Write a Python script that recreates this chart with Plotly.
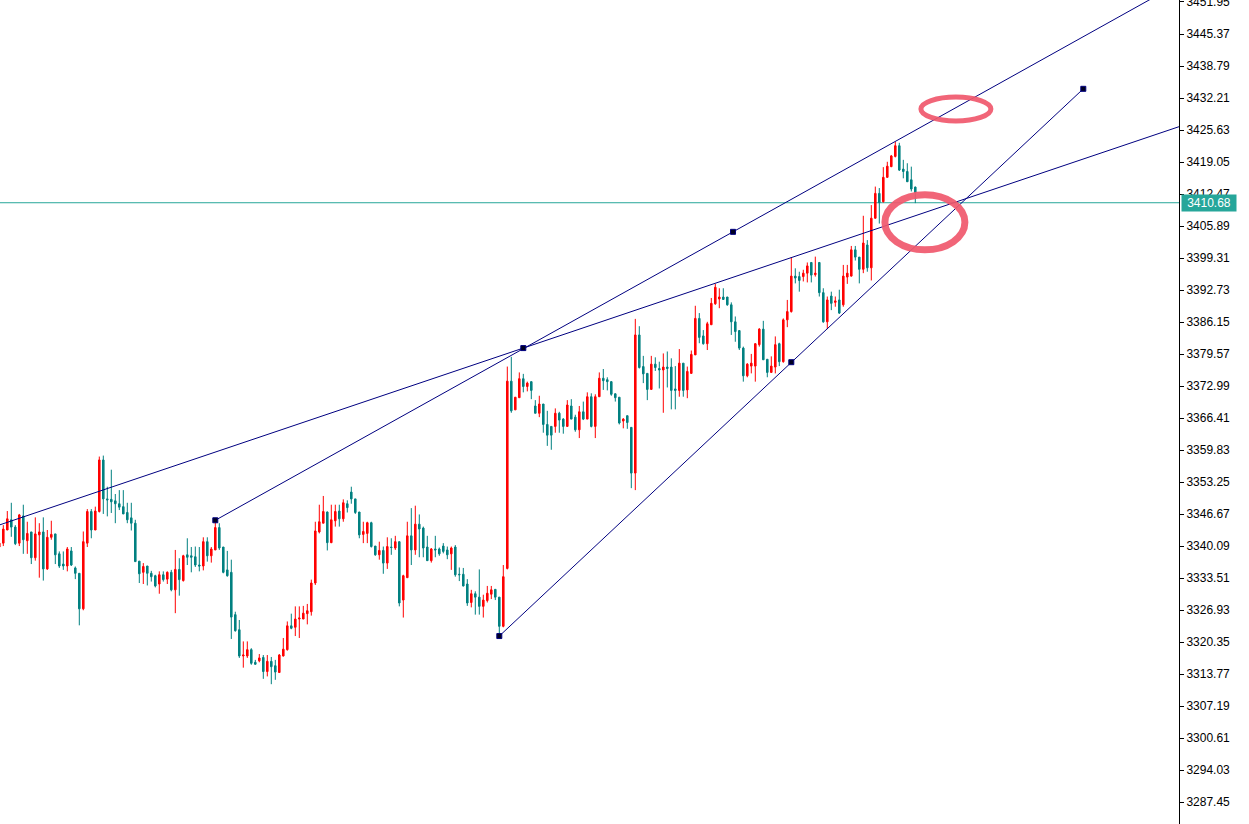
import plotly.graph_objects as go

# ---- candle data (index -1 is the partial candle at the left edge) ----
opens = [3339.9,
 3340.7, 3343.4, 3345.5, 3344.0, 3340.7, 3346.3, 3341.2, 3343.0, 3337.7, 3342.4,
 3343.0, 3335.4, 3341.9, 3342.6, 3338.5, 3336.4, 3336.0, 3339.1, 3335.6, 3334.5,
 3327.2, 3340.7, 3347.2, 3343.4, 3347.2, 3357.8, 3349.8, 3349.7, 3349.4, 3348.8,
 3348.2, 3347.0, 3345.9, 3344.8, 3337.0, 3334.7, 3336.0, 3334.5, 3334.0, 3332.3,
 3334.2, 3333.3, 3334.7, 3331.1, 3335.3, 3333.0, 3338.3, 3338.1, 3337.9, 3336.2,
 3336.0, 3341.0, 3338.1, 3339.3, 3343.9, 3339.9, 3335.2, 3334.7, 3326.0, 3322.9,
 3317.5, 3317.5, 3318.8, 3316.2, 3316.5, 3317.2, 3314.3, 3316.4, 3315.5, 3314.1,
 3317.5, 3318.8, 3323.7, 3323.4, 3325.1, 3325.1, 3326.2, 3326.6, 3332.5, 3343.0,
 3344.8, 3347.1, 3340.8, 3345.3, 3347.3, 3345.7, 3348.8, 3351.2, 3349.8, 3347.1,
 3342.5, 3342.7, 3344.9, 3340.1, 3338.3, 3339.2, 3336.6, 3339.9, 3339.7, 3341.0,
 3329.0, 3333.6, 3342.2, 3339.3, 3344.6, 3343.8, 3339.9, 3337.1, 3339.5, 3339.5,
 3340.1, 3339.3, 3338.5, 3339.9, 3334.3, 3334.3, 3332.3, 3328.5, 3330.3, 3329.6,
 3327.7, 3328.9, 3330.2, 3331.2, 3329.6, 3323.6, 3335.5, 3374.0, 3368.1, 3370.6,
 3374.5, 3372.9, 3373.9, 3368.9, 3367.4, 3369.3, 3365.1, 3364.7, 3364.7, 3367.4,
 3366.2, 3364.7, 3368.9, 3366.6, 3364.0, 3367.7, 3366.2, 3370.8, 3364.7, 3370.8,
 3374.6, 3374.3, 3373.9, 3371.4, 3370.7, 3365.8, 3366.9, 3364.5, 3355.1, 3383.5,
 3377.0, 3375.6, 3372.3, 3377.5, 3376.6, 3376.3, 3376.9, 3376.9, 3372.4, 3372.1,
 3377.7, 3372.2, 3375.6, 3379.4, 3386.9, 3383.3, 3381.7, 3385.6, 3389.9, 3390.9,
 3391.3, 3391.3, 3389.7, 3386.2, 3384.4, 3380.8, 3375.1, 3377.1, 3377.1, 3381.5,
 3384.7, 3378.5, 3375.8, 3376.9, 3381.7, 3378.0, 3386.6, 3388.3, 3395.6, 3395.5,
 3395.5, 3396.2, 3398.4, 3395.9, 3398.4, 3392.2, 3386.2, 3391.5, 3390.2, 3390.7,
 3389.7, 3395.4, 3395.6, 3401.0, 3399.5, 3397.0, 3402.0, 3397.3, 3407.5, 3412.6,
 3410.9, 3415.9, 3418.1, 3420.2, 3422.4, 3417.6, 3417.1, 3415.4, 3413.9]

highs = [3341.2,
 3344.4, 3347.3, 3349.0, 3344.4, 3346.7, 3348.6, 3345.1, 3343.0, 3346.0, 3344.8,
 3346.0, 3343.4, 3345.3, 3342.6, 3339.0, 3339.0, 3339.9, 3339.9, 3335.9, 3334.5,
 3343.1, 3347.7, 3347.7, 3348.2, 3358.5, 3358.7, 3352.3, 3355.8, 3350.8, 3351.6,
 3351.6, 3349.0, 3349.0, 3345.5, 3337.0, 3336.6, 3336.0, 3335.0, 3334.2, 3334.9,
 3334.9, 3334.9, 3335.2, 3339.3, 3337.6, 3338.3, 3341.7, 3339.9, 3340.0, 3339.9,
 3341.9, 3341.9, 3339.9, 3345.3, 3344.8, 3339.9, 3339.1, 3337.3, 3326.6, 3324.9,
 3320.5, 3320.5, 3319.1, 3316.7, 3317.9, 3317.7, 3317.7, 3317.3, 3316.7, 3317.9,
 3321.2, 3324.6, 3326.2, 3327.7, 3327.7, 3327.8, 3328.2, 3333.2, 3345.1, 3348.6,
 3350.4, 3347.2, 3348.6, 3348.6, 3348.6, 3349.7, 3349.5, 3352.3, 3349.8, 3347.1,
 3345.1, 3345.1, 3345.1, 3340.1, 3341.0, 3340.0, 3341.9, 3341.7, 3342.2, 3341.0,
 3334.2, 3345.1, 3347.9, 3348.4, 3346.6, 3344.1, 3342.2, 3339.7, 3342.2, 3339.8,
 3340.7, 3340.0, 3340.0, 3340.3, 3335.7, 3335.6, 3333.3, 3331.1, 3330.8, 3335.3,
 3330.1, 3331.9, 3331.9, 3331.2, 3329.6, 3336.2, 3377.0, 3379.0, 3370.7, 3375.8,
 3375.5, 3373.9, 3373.9, 3370.1, 3371.0, 3369.3, 3367.9, 3364.7, 3368.4, 3367.7,
 3366.4, 3370.1, 3370.3, 3367.1, 3368.9, 3369.8, 3371.7, 3371.5, 3371.3, 3375.8,
 3376.5, 3374.8, 3374.0, 3371.5, 3370.7, 3366.4, 3366.9, 3364.5, 3386.8, 3385.3,
 3379.2, 3375.6, 3379.2, 3378.9, 3378.0, 3379.7, 3380.1, 3378.7, 3377.1, 3380.6,
 3377.7, 3377.0, 3380.3, 3389.5, 3388.0, 3384.5, 3386.2, 3391.1, 3394.0, 3393.1,
 3393.1, 3391.3, 3390.2, 3387.3, 3384.4, 3381.1, 3377.7, 3379.6, 3381.8, 3384.9,
 3386.4, 3378.5, 3379.1, 3383.2, 3381.9, 3386.9, 3390.7, 3399.5, 3397.2, 3396.5,
 3396.9, 3398.4, 3398.4, 3399.6, 3398.4, 3393.1, 3391.4, 3392.4, 3391.4, 3392.8,
 3397.9, 3397.9, 3401.8, 3401.8, 3399.5, 3408.0, 3403.0, 3410.2, 3414.0, 3413.7,
 3418.0, 3419.1, 3420.5, 3423.2, 3423.0, 3419.5, 3418.8, 3418.1, 3414.0]

lows = [3339.7,
 3340.1, 3343.4, 3342.0, 3340.3, 3340.1, 3338.5, 3338.5, 3336.4, 3337.1, 3333.6,
 3333.0, 3335.2, 3341.4, 3336.4, 3335.6, 3335.2, 3334.9, 3336.0, 3333.3, 3323.8,
 3326.9, 3339.9, 3341.7, 3343.4, 3347.0, 3346.7, 3346.2, 3346.9, 3344.8, 3347.5,
 3346.7, 3344.8, 3343.3, 3336.9, 3332.5, 3332.3, 3332.0, 3332.8, 3331.6, 3330.3,
 3332.8, 3332.3, 3330.8, 3326.3, 3329.9, 3332.8, 3336.2, 3334.7, 3335.8, 3334.9,
 3335.1, 3336.9, 3336.7, 3339.3, 3339.3, 3334.5, 3333.8, 3321.0, 3322.5, 3317.1,
 3315.1, 3317.1, 3315.7, 3315.7, 3316.2, 3312.8, 3313.3, 3311.7, 3312.6, 3314.1,
 3317.4, 3318.6, 3323.0, 3321.6, 3321.2, 3325.1, 3324.0, 3325.8, 3332.1, 3342.7,
 3344.8, 3339.2, 3340.7, 3344.1, 3344.1, 3345.1, 3347.0, 3348.8, 3346.7, 3341.7,
 3340.7, 3340.7, 3339.8, 3338.1, 3337.3, 3334.4, 3335.4, 3338.3, 3339.3, 3327.7,
 3325.4, 3333.6, 3336.2, 3338.3, 3337.8, 3337.8, 3337.1, 3336.7, 3337.8, 3338.1,
 3338.6, 3337.4, 3335.2, 3333.8, 3332.9, 3331.8, 3327.8, 3327.5, 3326.0, 3326.0,
 3325.4, 3328.5, 3329.2, 3329.0, 3321.9, 3323.4, 3335.3, 3367.5, 3368.1, 3370.6,
 3371.7, 3371.9, 3370.3, 3367.4, 3366.6, 3363.4, 3360.7, 3359.9, 3363.4, 3363.4,
 3363.2, 3364.7, 3366.2, 3363.6, 3362.3, 3366.0, 3366.2, 3364.5, 3362.3, 3370.8,
 3372.2, 3372.1, 3371.0, 3369.8, 3365.1, 3364.3, 3364.2, 3352.0, 3351.6, 3376.6,
 3373.6, 3370.1, 3372.3, 3376.1, 3372.5, 3367.5, 3372.7, 3368.2, 3368.2, 3370.8,
 3370.8, 3370.5, 3375.6, 3379.4, 3381.8, 3381.5, 3380.4, 3385.6, 3389.7, 3389.0,
 3390.7, 3389.5, 3383.5, 3382.1, 3380.4, 3373.9, 3374.8, 3375.6, 3373.9, 3381.1,
 3378.4, 3374.8, 3375.8, 3375.6, 3377.1, 3377.8, 3385.1, 3388.1, 3394.1, 3392.4,
 3394.5, 3394.3, 3394.3, 3395.5, 3391.4, 3386.0, 3384.7, 3388.6, 3389.3, 3387.8,
 3389.3, 3394.0, 3395.5, 3398.8, 3394.1, 3396.2, 3396.5, 3394.7, 3407.4, 3406.4,
 3410.7, 3415.8, 3418.0, 3420.0, 3417.2, 3415.7, 3415.0, 3413.0, 3410.6]

closes = [3340.7,
 3343.6, 3345.7, 3344.0, 3340.6, 3346.5, 3341.4, 3342.7, 3337.7, 3342.6, 3343.0,
 3335.4, 3341.9, 3342.5, 3338.3, 3336.0, 3336.0, 3339.5, 3336.2, 3334.5, 3327.2,
 3341.0, 3347.2, 3343.4, 3347.3, 3357.8, 3349.8, 3349.6, 3349.2, 3348.8, 3348.1,
 3346.7, 3345.5, 3344.8, 3336.9, 3334.4, 3335.9, 3334.5, 3333.8, 3331.9, 3334.2,
 3333.2, 3334.7, 3331.1, 3335.3, 3333.2, 3338.1, 3337.8, 3337.8, 3336.2, 3336.0,
 3341.0, 3338.1, 3339.5, 3343.9, 3339.7, 3334.7, 3334.0, 3325.5, 3322.7, 3317.5,
 3317.7, 3318.8, 3316.0, 3315.8, 3317.1, 3314.3, 3316.4, 3315.3, 3314.2, 3317.7,
 3318.9, 3323.7, 3323.2, 3325.1, 3325.3, 3326.3, 3326.8, 3332.5, 3343.2, 3345.1,
 3347.2, 3340.8, 3345.5, 3347.2, 3345.7, 3349.0, 3348.0, 3349.8, 3347.0, 3342.4,
 3343.1, 3344.9, 3340.0, 3338.3, 3339.2, 3336.6, 3340.0, 3339.8, 3341.0, 3328.4,
 3334.0, 3342.2, 3339.3, 3344.6, 3343.6, 3339.7, 3337.1, 3339.5, 3339.3, 3338.5,
 3339.0, 3338.3, 3339.7, 3334.2, 3334.2, 3331.9, 3328.4, 3330.3, 3329.6, 3327.7,
 3329.0, 3330.4, 3331.1, 3329.6, 3323.6, 3333.8, 3374.0, 3367.9, 3370.7, 3374.5,
 3372.9, 3373.6, 3372.1, 3367.4, 3369.3, 3365.1, 3362.9, 3362.9, 3367.4, 3366.0,
 3364.7, 3369.1, 3366.2, 3364.0, 3367.7, 3366.2, 3370.8, 3364.7, 3370.8, 3374.6,
 3374.1, 3373.9, 3371.3, 3370.6, 3365.4, 3366.2, 3365.5, 3355.1, 3383.5, 3376.8,
 3375.5, 3372.3, 3377.5, 3376.8, 3376.3, 3376.9, 3376.6, 3372.1, 3372.1, 3377.7,
 3372.1, 3376.0, 3379.5, 3386.9, 3383.0, 3381.7, 3385.8, 3390.0, 3393.3, 3391.3,
 3390.8, 3389.7, 3386.2, 3384.2, 3380.8, 3375.1, 3377.5, 3377.7, 3381.7, 3384.7,
 3378.4, 3375.8, 3377.1, 3381.5, 3378.0, 3386.6, 3388.3, 3395.6, 3395.2, 3394.7,
 3396.2, 3397.7, 3395.8, 3396.2, 3392.2, 3386.2, 3390.7, 3390.0, 3390.5, 3388.0,
 3395.6, 3396.2, 3401.0, 3399.5, 3397.0, 3402.4, 3397.3, 3407.5, 3412.6, 3410.7,
 3415.9, 3418.2, 3420.3, 3422.4, 3417.4, 3417.1, 3415.0, 3413.5, 3412.8]

candle_index = list(range(-1, len(opens) - 1))

# ---- price scale ----
price_ticks = [3451.95, 3445.37, 3438.79, 3432.21, 3425.63, 3419.05, 3412.47,
               3405.89, 3399.31, 3392.73, 3386.15, 3379.57, 3372.99, 3366.41,
               3359.83, 3353.25, 3346.67, 3340.09, 3333.51, 3326.93, 3320.35,
               3313.77, 3307.19, 3300.61, 3294.03, 3287.45]
price_range = [3282.96, 3452.36]
index_range = [-0.825, 293.925]
current_price = 3410.68

# ---- trend lines: anchor points (start, middle, end) as (candle index, price) ----
upper_line_x = [53, 182.43, 311.86]
upper_line_y = [3345.4, 3404.7, 3464.0]
fan_line_x = [-40, 130, 300]
fan_line_y = [3333.6, 3380.8, 3428.0]
support_line_x = [124, 197, 270]
support_line_y = [3321.6, 3377.9, 3434.1]

# ---- highlight ellipses: (x0, x1, y_low, y_high) ----
ellipse_top = [229.4, 246.9, 3427.5, 3432.4]
ellipse_mid = [220.4, 240.4, 3401.0, 3412.3]

RED = "#FF0000"
TEAL = "#008080"
NAVY = "#000080"
PRICE_TEAL = "#26A69A"
PINK = "rgba(240,88,108,0.92)"
FONT = "Liberation Sans, Arial, sans-serif"

fig = go.Figure()

fig.add_trace(go.Candlestick(
    x=candle_index, open=opens, high=highs, low=lows, close=closes,
    increasing=dict(line=dict(color=RED, width=1), fillcolor=RED),
    decreasing=dict(line=dict(color=TEAL, width=1), fillcolor=TEAL),
    whiskerwidth=0, showlegend=False, hoverinfo="skip",
))

for lx, ly in [(upper_line_x, upper_line_y), (fan_line_x, fan_line_y),
               (support_line_x, support_line_y)]:
    fig.add_trace(go.Scatter(
        x=lx, y=ly, mode="lines+markers",
        line=dict(color=NAVY, width=1),
        marker=dict(symbol="square", size=5, color="#000022",
                    line=dict(color=NAVY, width=1)),
        showlegend=False, hoverinfo="skip",
    ))

shapes = [
    dict(type="line", xref="paper", x0=0, x1=1, yref="y",
         y0=current_price, y1=current_price,
         line=dict(color=PRICE_TEAL, width=1), layer="below"),
    dict(type="circle", xref="x", yref="y",
         x0=ellipse_top[0], x1=ellipse_top[1], y0=ellipse_top[2], y1=ellipse_top[3],
         line=dict(color=PINK, width=5)),
    dict(type="circle", xref="x", yref="y",
         x0=ellipse_mid[0], x1=ellipse_mid[1], y0=ellipse_mid[2], y1=ellipse_mid[3],
         line=dict(color=PINK, width=7)),
]

fig.update_layout(
    width=1249, height=824,
    margin=dict(l=0, r=70, t=0, b=0),
    paper_bgcolor="white", plot_bgcolor="white",
    boxgap=0.45,
    shapes=shapes,
    showlegend=False,
    font=dict(family=FONT, size=12, color="black"),
    xaxis=dict(range=index_range, showgrid=False, zeroline=False,
               showticklabels=False, ticks="", showline=False,
               rangeslider=dict(visible=False), fixedrange=True),
    yaxis=dict(range=price_range, side="right", showgrid=False, zeroline=False,
               tickvals=price_ticks, ticktext=[f"{v:.2f}" for v in price_ticks],
               ticks="outside", ticklen=4, tickcolor="black", tickwidth=1,
               showline=True, linecolor="black", linewidth=1,
               tickfont=dict(family=FONT, size=12, color="black"),
               ticklabeloverflow="allow",
               automargin=False, fixedrange=True),
    annotations=[dict(
        xref="paper", x=1, xanchor="left", xshift=2,
        yref="y", y=current_price, yanchor="middle",
        text=f"{current_price:.2f}", showarrow=False,
        bgcolor=PRICE_TEAL, borderpad=1, width=52, align="center",
        font=dict(family=FONT, size=12, color="white"),
    )],
)

fig.write_html(
    "out.html",
    config={"displayModeBar": False},
    post_script="document.body.style.margin='0';document.body.style.overflow='hidden';",
)
